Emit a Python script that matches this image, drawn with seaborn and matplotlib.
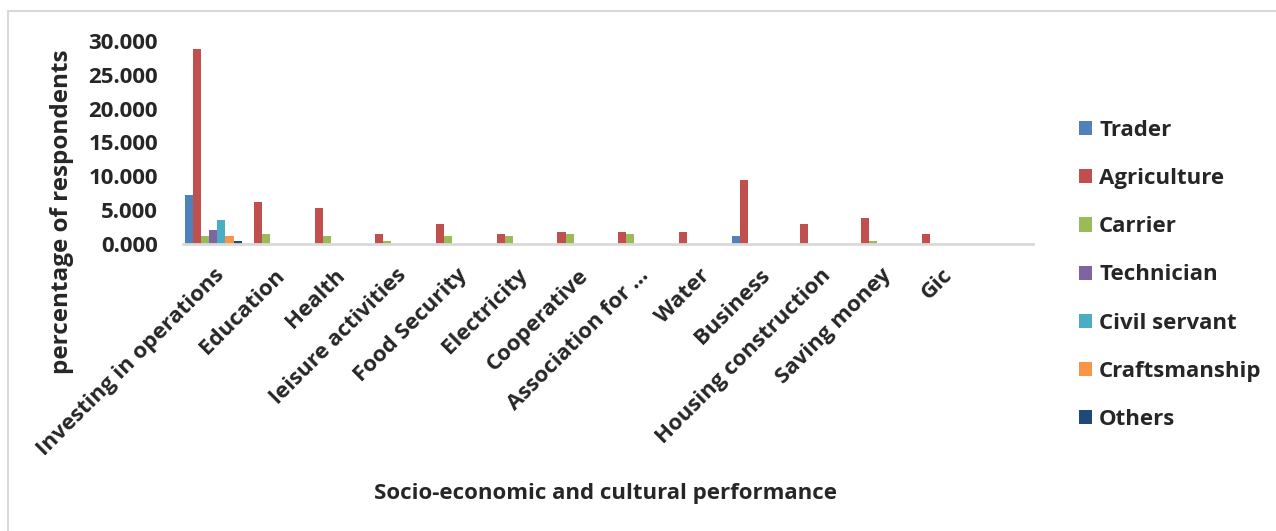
import pandas as pd
import matplotlib
matplotlib.use("Agg")
import matplotlib.pyplot as plt
import seaborn as sns
from matplotlib.patches import Rectangle
from matplotlib.ticker import FormatStrFormatter

# Categories on the x axis
categories = [
    "Investing in operations", "Education", "Health", "leisure activities",
    "Food Security", "Electricity", "Cooperative", "Association for ...",
    "Water", "Business", "Housing construction", "Saving money", "Gic",
]

# Percentage of respondents per occupation
trader        = [7.3, 0, 0, 0, 0, 0, 0, 0, 0, 1.2, 0, 0, 0]
agriculture   = [28.8, 6.2, 5.3, 1.5, 3.0, 1.5, 1.8, 1.8, 1.8, 9.4, 3.0, 3.9, 1.5]
carrier       = [1.2, 1.5, 1.2, 0.5, 1.2, 1.2, 1.5, 1.5, 0, 0, 0, 0.4, 0]
technician    = [2.1, 0, 0, 0, 0, 0, 0, 0, 0, 0, 0, 0, 0]
civil_servant = [3.6, 0, 0, 0, 0, 0, 0, 0, 0, 0, 0, 0, 0]
craftsmanship = [1.2, 0, 0, 0, 0, 0, 0, 0, 0, 0, 0, 0, 0]
others        = [0.5, 0, 0, 0, 0, 0, 0, 0, 0, 0, 0, 0, 0]

series = {
    "Trader": trader,
    "Agriculture": agriculture,
    "Carrier": carrier,
    "Technician": technician,
    "Civil servant": civil_servant,
    "Craftsmanship": craftsmanship,
    "Others": others,
}
colors = ["#4F81BD", "#C0504D", "#9BBB59", "#8064A2", "#4BACC6", "#F79646", "#1F497D"]

rows = []
for name, vals in series.items():
    for cat, v in zip(categories, vals):
        rows.append({"category": cat, "occupation": name, "value": v})
df = pd.DataFrame(rows)

sns.set_style("white")
plt.rcParams["font.family"] = ["Open Sans", "DejaVu Sans"]
plt.rcParams["font.weight"] = "bold"
FS = 16

fig = plt.figure(figsize=(12.76, 5.31), dpi=100)
ax = fig.add_axes([183 / 1276, 1 - 244 / 531, (1033 - 183) / 1276, (244 - 41) / 531])

sns.barplot(data=df, x="category", y="value", hue="occupation",
            order=categories, hue_order=list(series.keys()),
            palette=colors, width=0.93, gap=0, saturation=1,
            linewidth=0, ax=ax)

ax.set_xlim(-0.5, len(categories) + 0.5)
ax.set_ylim(0, 30)
ax.set_yticks(range(0, 31, 5))
ax.yaxis.set_major_formatter(FormatStrFormatter("%.3f"))
ax.tick_params(axis="both", length=0, labelsize=FS)
ax.tick_params(axis="y", pad=18)
ax.tick_params(axis="x", pad=15)
for lab in ax.get_yticklabels():
    lab.set_fontweight("bold")
ax.set_xticks(range(len(categories)))
ax.set_xticklabels(categories, rotation=45, ha="right", rotation_mode="anchor",
                   fontsize=FS, fontweight="bold")

for s in ["top", "right", "left"]:
    ax.spines[s].set_visible(False)
ax.spines["bottom"].set_color("#d9d9d9")
ax.spines["bottom"].set_linewidth(2)

ax.set_xlabel("")
ax.set_ylabel("")
fig.text(605 / 1276, 1 - 493 / 531, "Socio-economic and cultural performance",
         ha="center", va="center", fontsize=FS, fontweight="bold")
fig.text(62 / 1276, 1 - 212 / 531, "percentage of respondents", rotation=90,
         ha="center", va="center", fontsize=17.5, fontweight="bold")

handles, labels = ax.get_legend_handles_labels()
if ax.legend_:
    ax.legend_.remove()
leg = fig.legend(handles, labels, loc="center left",
                 bbox_to_anchor=(1059 / 1276, 1 - 275 / 531),
                 frameon=False, fontsize=FS, handlelength=0.6, handleheight=0.6,
                 handletextpad=0.3, labelspacing=1.22)
for t in leg.get_texts():
    t.set_fontweight("bold")

# chart-area border
fig.patches.append(Rectangle((8 / 1276, -0.1), 1.2, 1 - 11 / 531 + 0.1,
                             transform=fig.transFigure, fill=False,
                             edgecolor="#d9d9d9", linewidth=1.5))

fig.savefig("out.png", dpi=100)
